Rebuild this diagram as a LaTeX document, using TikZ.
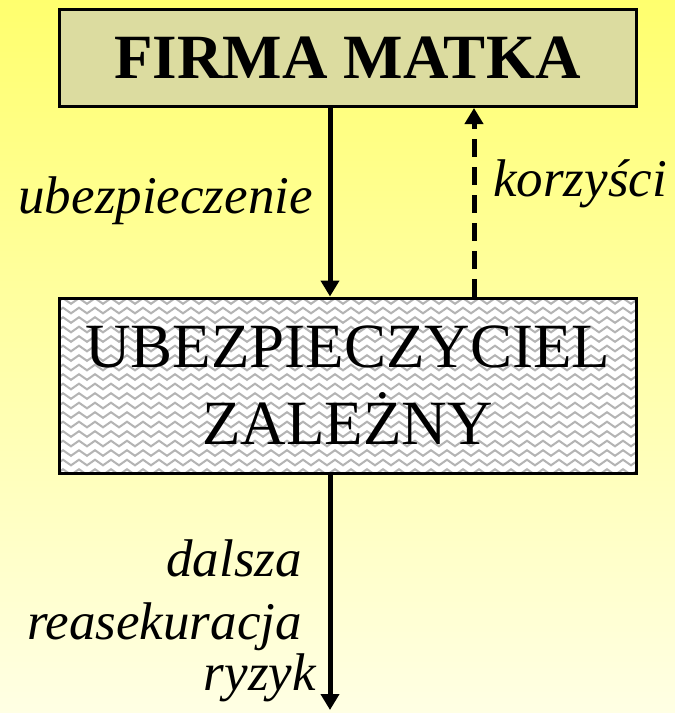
\documentclass[tikz,border=0pt]{standalone}
\usepackage{fontspec}
\setmainfont{Liberation Serif}
\usetikzlibrary{arrows.meta,decorations.pathmorphing}
\definecolor{tlogora}{RGB}{255,255,110}
\definecolor{tlodol}{RGB}{255,255,228}
\definecolor{khaki}{RGB}{220,220,160}
\definecolor{fala}{RGB}{180,180,180}
\tikzset{box/.style={draw=black,line width=3pt,fill=#1,inner sep=0pt,minimum width=577pt},box/.default=khaki}
\tikzset{flow/.style={line width=5pt,-{Triangle[length=16pt,width=18pt]}}}
\tikzset{opis/.style={inner sep=0pt,font=\fontsize{53}{60}\selectfont\itshape}}
\tikzset{zigzagrow/.style={draw=fala,line width=2pt,decorate,decoration={zigzag,segment length=16pt,amplitude=2.8pt}}}

\begin{document}
\begin{tikzpicture}[x=1pt,y=-1pt]
	% Tlo
	\shade [top color=tlogora,bottom color=tlodol] (0,0) rectangle (675,713);
	\useasboundingbox (0,0) rectangle (675,713);

	% Skrzynki
	\node [box,minimum height=97pt,font=\fontsize{63}{77}\selectfont\bfseries] (F) at (347.5,58) {FIRMA MATKA};
	\node [box=white,minimum height=175pt,align=center,font=\fontsize{63}{77}\selectfont,
		path picture={
			\foreach \r in {0,...,19}
				\draw [zigzagrow] ([yshift=-\r*9.5pt-3pt]path picture bounding box.north west) --
					([yshift=-\r*9.5pt-3pt]path picture bounding box.north east);
		}] (U) at (347.5,385.5) {UBEZPIECZYCIEL\\ZALEŻNY};

	% Strzalki
	\coordinate (koniec) at (330,710);
	\draw [flow] ([xshift=-17.5pt]F.south) -- ([xshift=-17.5pt]U.north);
	\draw [flow,dash pattern=on 18pt off 10pt] ([xshift=126.5pt]U.north) -- ([xshift=126.5pt]F.south);
	\draw [flow] ([xshift=-17.5pt]U.south) -- (koniec);

	% Opisy
	\node [opis,anchor=base east] (ubezp) at (313,213) {ubezpieczenie};
	\node [opis,anchor=base west] (korz) at (493,196) {korzyści};
	\node [opis,anchor=base east] (dalsza) at (302,576) {dalsza};
	\node [opis,anchor=base east] (reas) at (302,639) {reasekuracja};
	\node [opis,anchor=base east] (ryzyk) at (316,690) {ryzyk};

\end{tikzpicture}
\end{document}
